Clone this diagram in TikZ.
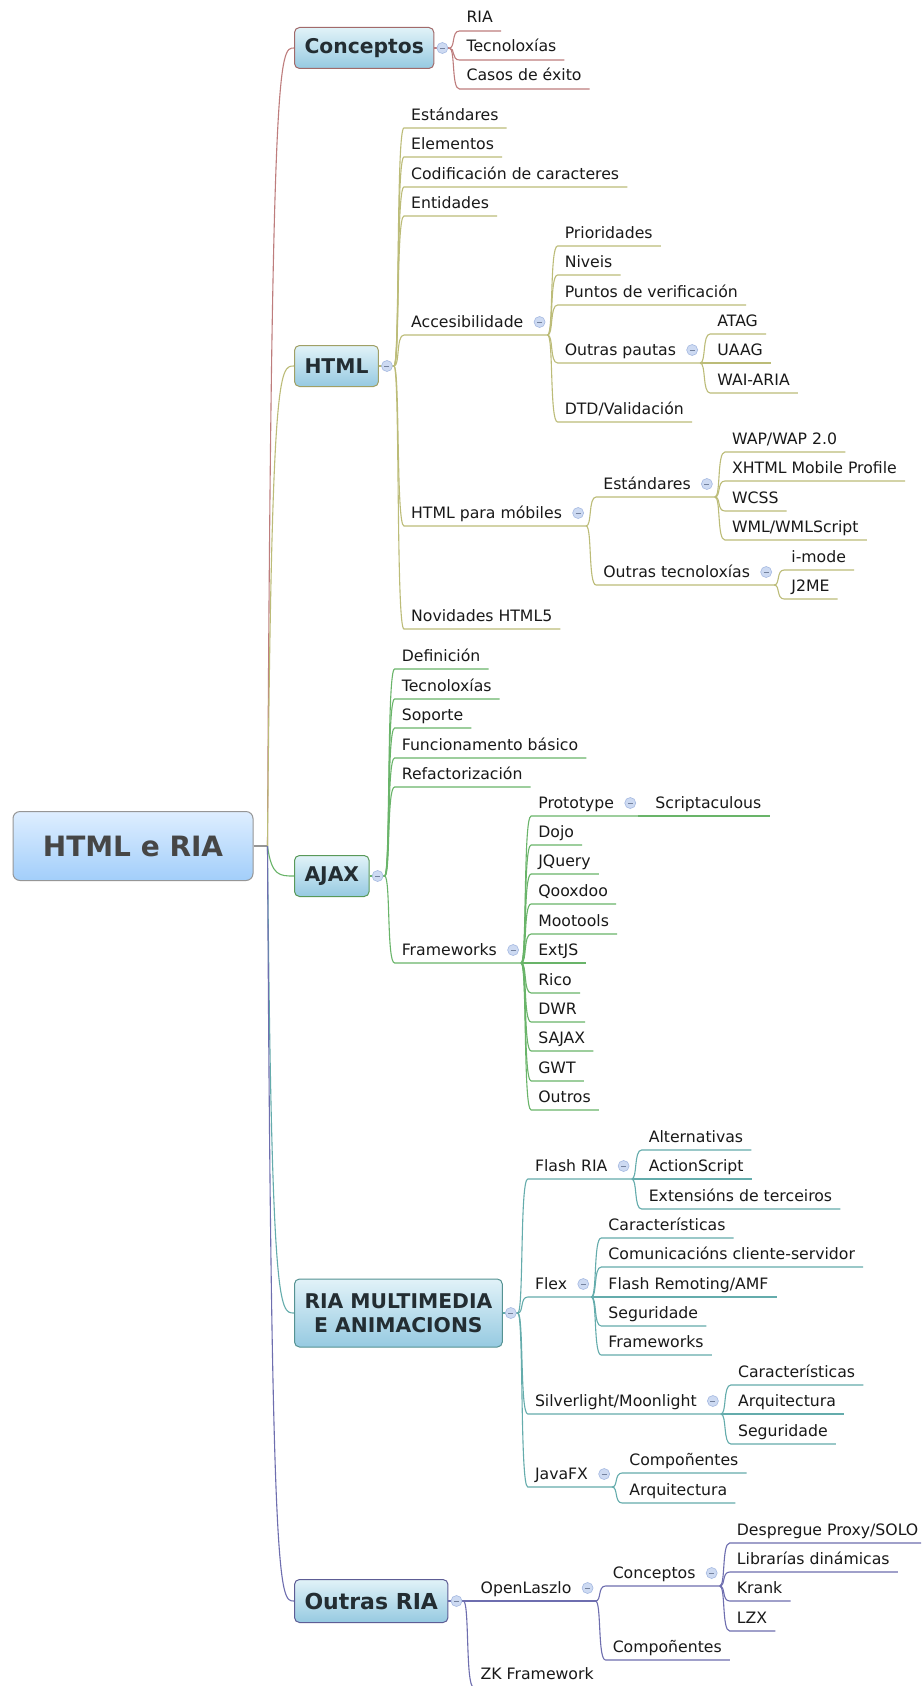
\documentclass[tikz,border=0pt]{standalone}
\usepackage{fontspec}
\setmainfont{DejaVu Sans}
\usetikzlibrary{calc}
\definecolor{cConc}{RGB}{190,125,125}
\definecolor{cHtml}{RGB}{188,188,120}
\definecolor{cAjax}{RGB}{105,180,105}
\definecolor{cRia}{RGB}{100,172,172}
\definecolor{cOut}{RGB}{110,110,175}
\definecolor{cRoot}{RGB}{150,150,150}
\definecolor{txt}{RGB}{25,25,25}
\definecolor{boxtxt}{RGB}{35,45,50}
\definecolor{roottxt}{RGB}{70,70,70}
\definecolor{circfill}{RGB}{205,218,242}
\definecolor{circdraw}{RGB}{165,185,225}
\definecolor{boxtop}{RGB}{225,242,248}
\definecolor{boxbot}{RGB}{150,202,225}
\definecolor{roottop}{RGB}{222,238,255}
\definecolor{rootbot}{RGB}{162,206,250}
\tikzset{
  conn/.style={line width=1.1pt},
  lt/.style={inner sep=0pt, text=txt, font=\fontsize{15.7}{18}\selectfont},
  circ/.style={circle, draw=circdraw, fill=circfill, line width=0.6pt, minimum size=11pt, inner sep=0pt,
    path picture={\draw[circdraw!70!black, line width=0.7pt] ([xshift=-2.5pt]path picture bounding box.center) -- ([xshift=2.5pt]path picture bounding box.center);}},
  mbox/.style={rounded corners=5pt, top color=boxtop, bottom color=boxbot, line width=1pt, inner xsep=10pt,
    minimum height=41pt, text=boxtxt, font=\fontsize{20.3}{24}\selectfont\bfseries, align=center},
  rootbox/.style={rounded corners=7pt, top color=roottop, bottom color=rootbot, draw=cRoot, line width=1pt,
    minimum width=240pt, minimum height=69pt, text=roottxt, font=\fontsize{28}{32}\selectfont\bfseries},
}
% leaf topic: #1 colour, #2 fork coordinate, #3 name, #4 underline y, #5 text
\newcommand\mkleaf[5]{%
  \coordinate (#3-row) at (0,#4);
  \path (#2) ++(10,0) coordinate (#3-tmp);
  \coordinate (#3-s) at (#3-tmp |- #3-row);
  \node[lt, anchor=base west] (#3) at ($(#3-s)+(7,-8)$) {#5};
  \coordinate (#3-e) at ($(#3.base east)+(8,8)$);
  \draw[conn, #1] (#2) .. controls ($(#2)+(6,0)$) and ($(#2 |- #3-row)+(2,0)$) .. (#3-s) -- (#3-e);
}
% topic with children
\newcommand\mkpar[5]{%
  \coordinate (#3-row) at (0,#4);
  \path (#2) ++(10,0) coordinate (#3-tmp);
  \coordinate (#3-s) at (#3-tmp |- #3-row);
  \node[lt, anchor=base west] (#3) at ($(#3-s)+(7,-8)$) {#5};
  \node[circ] (#3-c) at ($(#3.base east)+(16,-5)$) {};
  \coordinate (#3-e) at ($(#3.base east)+(24,8)$);
  \draw[conn, #1] (#2) .. controls ($(#2)+(6,0)$) and ($(#2 |- #3-row)+(2,0)$) .. (#3-s) -- (#3-e);
}
% main box: #1 colour, #2 name, #3 y, #4 text, #5 extra style
\newcommand\mkbox[5]{%
  \node[mbox, draw=#1!85!black, anchor=west, #5] (#2) at (294,#3) {#4};
  \coordinate (#2-e) at ($(#2.east)+(15,0)$);
  \draw[conn, #1] (#2.east) -- (#2-e);
  \node[circ] (#2-c) at ($(#2.east)+(8,0)$) {};
  \draw[conn, #1] (J) .. controls ($(J |- #2.west)+(4,0)$) and ($(J |- #2.west)+(12,0)$) .. (#2.west);
}
\begin{document}
\begin{tikzpicture}[x=1pt, y=-1pt]
\path[use as bounding box] (0,0) rectangle (921,1686);
\fill[white] (0,0) rectangle (921,1686);
\clip (0,0) rectangle (921,1686);

\node[rootbox] (root) at (133,846) {HTML e RIA};
\coordinate (J) at ($(root.east)+(14,0)$);
\draw[conn, cRoot] (root.east) -- (J);

% Conceptos
\mkbox{cConc}{conc}{48}{Conceptos}{}
\mkleaf{cConc}{conc-e}{c1}{31}{RIA}
\mkleaf{cConc}{conc-e}{c2}{60}{Tecnoloxías}
\mkleaf{cConc}{conc-e}{c3}{89}{Casos de éxito}

% HTML
\mkbox{cHtml}{html}{366}{HTML}{}
\mkleaf{cHtml}{html-e}{h1}{128}{Estándares}
\mkleaf{cHtml}{html-e}{h2}{157}{Elementos}
\mkleaf{cHtml}{html-e}{h3}{187}{Codificación de caracteres}
\mkleaf{cHtml}{html-e}{h4}{216}{Entidades}
\mkpar{cHtml}{html-e}{acc}{335}{Accesibilidade}
\mkleaf{cHtml}{acc-e}{a1}{246}{Prioridades}
\mkleaf{cHtml}{acc-e}{a2}{275}{Niveis}
\mkleaf{cHtml}{acc-e}{a3}{305}{Puntos de verificación}
\mkpar{cHtml}{acc-e}{op}{363}{Outras pautas}
\mkleaf{cHtml}{op-e}{op1}{334}{ATAG}
\mkleaf{cHtml}{op-e}{op2}{363}{UAAG}
\mkleaf{cHtml}{op-e}{op3}{393}{WAI-ARIA}
\mkleaf{cHtml}{acc-e}{a5}{422}{DTD/Validación}
\mkpar{cHtml}{html-e}{mob}{526}{HTML para móbiles}
\mkpar{cHtml}{mob-e}{est}{497}{Estándares}
\mkleaf{cHtml}{est-e}{e1}{452}{WAP/WAP 2.0}
\mkleaf{cHtml}{est-e}{e2}{481}{XHTML Mobile Profile}
\mkleaf{cHtml}{est-e}{e3}{511}{WCSS}
\mkleaf{cHtml}{est-e}{e4}{540}{WML/WMLScript}
\mkpar{cHtml}{mob-e}{otec}{585}{Outras tecnoloxías}
\mkleaf{cHtml}{otec-e}{o1}{570}{i-mode}
\mkleaf{cHtml}{otec-e}{o2}{599}{J2ME}
\mkleaf{cHtml}{html-e}{h7}{629}{Novidades HTML5}

% AJAX
\mkbox{cAjax}{ajax}{876}{AJAX}{}
\mkleaf{cAjax}{ajax-e}{j1}{669}{Definición}
\mkleaf{cAjax}{ajax-e}{j2}{699}{Tecnoloxías}
\mkleaf{cAjax}{ajax-e}{j3}{728}{Soporte}
\mkleaf{cAjax}{ajax-e}{j4}{758}{Funcionamento básico}
\mkleaf{cAjax}{ajax-e}{j5}{787}{Refactorización}
\mkpar{cAjax}{ajax-e}{fw}{963}{Frameworks}
\mkpar{cAjax}{fw-e}{proto}{816}{Prototype}
\mkleaf{cAjax}{proto-e}{scr}{816}{Scriptaculous}
\mkleaf{cAjax}{fw-e}{f2}{845}{Dojo}
\mkleaf{cAjax}{fw-e}{f3}{874}{JQuery}
\mkleaf{cAjax}{fw-e}{f4}{904}{Qooxdoo}
\mkleaf{cAjax}{fw-e}{f5}{934}{Mootools}
\mkleaf{cAjax}{fw-e}{f6}{963}{ExtJS}
\mkleaf{cAjax}{fw-e}{f7}{993}{Rico}
\mkleaf{cAjax}{fw-e}{f8}{1022}{DWR}
\mkleaf{cAjax}{fw-e}{f9}{1051}{SAJAX}
\mkleaf{cAjax}{fw-e}{f10}{1081}{GWT}
\mkleaf{cAjax}{fw-e}{f11}{1110}{Outros}

% RIA MULTIMEDIA
\mkbox{cRia}{ria}{1313}{RIA MULTIMEDIA\\E ANIMACIONS}{minimum height=68pt}
\mkpar{cRia}{ria-e}{flash}{1179}{Flash RIA}
\mkleaf{cRia}{flash-e}{fl1}{1150}{Alternativas}
\mkleaf{cRia}{flash-e}{fl2}{1179}{ActionScript}
\mkleaf{cRia}{flash-e}{fl3}{1209}{Extensións de terceiros}
\mkpar{cRia}{ria-e}{flex}{1297}{Flex}
\mkleaf{cRia}{flex-e}{fx1}{1238}{Características}
\mkleaf{cRia}{flex-e}{fx2}{1267}{Comunicacións cliente-servidor}
\mkleaf{cRia}{flex-e}{fx3}{1297}{Flash Remoting/AMF}
\mkleaf{cRia}{flex-e}{fx4}{1326}{Seguridade}
\mkleaf{cRia}{flex-e}{fx5}{1355}{Frameworks}
\mkpar{cRia}{ria-e}{silv}{1414}{Silverlight/Moonlight}
\mkleaf{cRia}{silv-e}{s1}{1385}{Características}
\mkleaf{cRia}{silv-e}{s2}{1414}{Arquitectura}
\mkleaf{cRia}{silv-e}{s3}{1444}{Seguridade}
\mkpar{cRia}{ria-e}{jfx}{1487}{JavaFX}
\mkleaf{cRia}{jfx-e}{jf1}{1473}{Compoñentes}
\mkleaf{cRia}{jfx-e}{jf2}{1503}{Arquitectura}

% Outras RIA
\mkbox{cOut}{outr}{1601}{Outras RIA}{font=\fontsize{22}{26}\selectfont\bfseries, minimum height=43pt}
\mkpar{cOut}{outr-e}{ol}{1601}{OpenLaszlo}
\mkpar{cOut}{ol-e}{olc}{1586}{Conceptos}
\mkleaf{cOut}{olc-e}{l1}{1543}{Despregue Proxy/SOLO}
\mkleaf{cOut}{olc-e}{l2}{1572}{Librarías dinámicas}
\mkleaf{cOut}{olc-e}{l3}{1601}{Krank}
\mkleaf{cOut}{olc-e}{l4}{1631}{LZX}
\mkleaf{cOut}{ol-e}{olcomp}{1660}{Compoñentes}
\mkleaf{cOut}{outr-e}{zk}{1687}{ZK Framework}
\end{tikzpicture}
\end{document}
